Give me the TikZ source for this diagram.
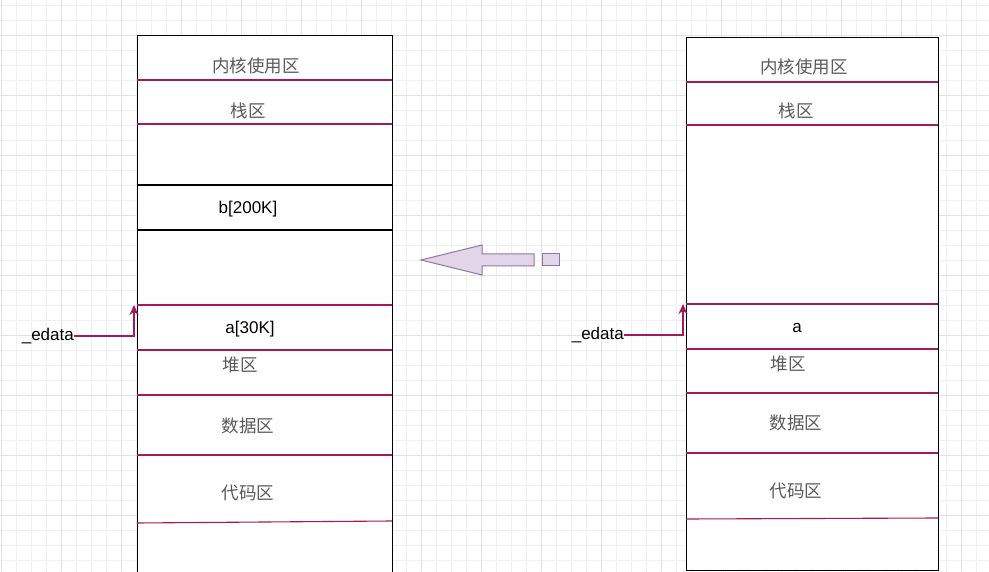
\documentclass[tikz,border=0pt]{standalone}
\usepackage{fontspec}
\setmainfont{Liberation Sans}
\newfontfamily\cjk{Noto Sans CJK SC}
\usetikzlibrary{arrows.meta}
\definecolor{mag}{HTML}{A3195B}
\definecolor{gminor}{HTML}{F0F0F0}
\definecolor{gmajor}{HTML}{E2E2E2}
\definecolor{pfill}{HTML}{E1D5E7}
\definecolor{pline}{HTML}{9673A6}
\definecolor{cjkgray}{HTML}{5A5A5A}
\tikzset{
  memrect/.style={draw=black, line width=1.2pt, fill=white, anchor=north west, inner sep=0pt},
  sep/.style={draw=mag, line width=1.1pt},
  blk/.style={draw=black, line width=1.1pt},
  zh/.style={font=\cjk\fontsize{17.5}{20}\selectfont, text=cjkgray, inner sep=0pt},
  en/.style={font=\fontsize{17}{20}\selectfont, text=black, inner sep=0pt},
  edge/.style={draw=mag, line width=1.4pt, -{Stealth[length=10pt,width=9pt]}},
  bigarrow/.style={draw=pline, fill=pfill, line width=1pt}
}
\begin{document}
\begin{tikzpicture}[x=1pt,y=-1pt]
\useasboundingbox (0,0) rectangle (989,572);
\clip (0,0) rectangle (989,572);
\fill[white] (0,0) rectangle (989,572);
% grid
\foreach \i in {0,...,65} \draw[gminor, line width=0.8pt] ({1+15*\i},0) -- ++(0,572);
\foreach \i in {0,...,38} \draw[gminor, line width=0.8pt] (0,{5+15*\i}) -- ++(989,0);
\foreach \i in {0,...,16} \draw[gmajor, line width=0.9pt] ({1+60*\i},0) -- ++(0,572);
\foreach \i in {0,...,9} \draw[gmajor, line width=0.9pt] (0,{35+60*\i}) -- ++(989,0);

% ---------- left memory ----------
\node[memrect, minimum width=255pt, minimum height=560pt] (L) at (137,35) {};
\draw[sep] (137,80) -- (392,80);
\draw[sep] (137,124) -- (392,124);
\draw[blk] (137,185) -- (392,185);
\draw[blk] (137,230) -- (392,230);
\draw[sep] (137,305) -- (392,305);
\draw[sep] (137,350) -- (392,350);
\draw[sep] (137,395) -- (392,395);
\draw[sep] (137,455) -- (392,455);
\draw[sep] (137,523) -- (392,521);
\node[zh] (Lk) at (256,66) {内核使用区};
\node[zh] (Ls) at (248,111) {栈区};
\node[en] (Lb) at (248,209) {b[200K]};
\node[en] (La) at (250,329) {a[30K]};
\node[zh] (Lh) at (240,365) {堆区};
\node[zh] (Ld) at (248,426) {数据区};
\node[zh] (Lc) at (248,493) {代码区};
\node[en, anchor=east] (eL) at (74,336) {\_edata};
\coordinate (pL) at (134,305);
\draw[edge] (eL.east) -| (pL);

% ---------- big arrow ----------
\draw[bigarrow] (421,260) -- (482,245) -- (482,254) -- (534,254) -- (534,266) -- (482,266) -- (482,275) -- cycle;
\draw[bigarrow] (542,254) rectangle (559,266);

% ---------- right memory ----------
\node[memrect, minimum width=252pt, minimum height=533pt] (R) at (686,37) {};
\draw[sep] (686,82) -- (938,82);
\draw[sep] (686,125) -- (938,125);
\draw[sep] (686,304) -- (938,304);
\draw[sep] (686,349) -- (938,349);
\draw[sep] (686,393) -- (938,393);
\draw[sep] (686,453) -- (938,453);
\draw[sep] (686,519) -- (938,518);
\node[zh] (Rk) at (804,67) {内核使用区};
\node[zh] (Rs) at (796,111) {栈区};
\node[en] (Ra) at (797,328) {a};
\node[zh] (Rh) at (788,364) {堆区};
\node[zh] (Rd) at (796,423) {数据区};
\node[zh] (Rc) at (796,491) {代码区};
\node[en, anchor=east] (eR) at (624,335) {\_edata};
\coordinate (pR) at (683,304);
\draw[edge] (eR.east) -| (pR);
\end{tikzpicture}
\end{document}
